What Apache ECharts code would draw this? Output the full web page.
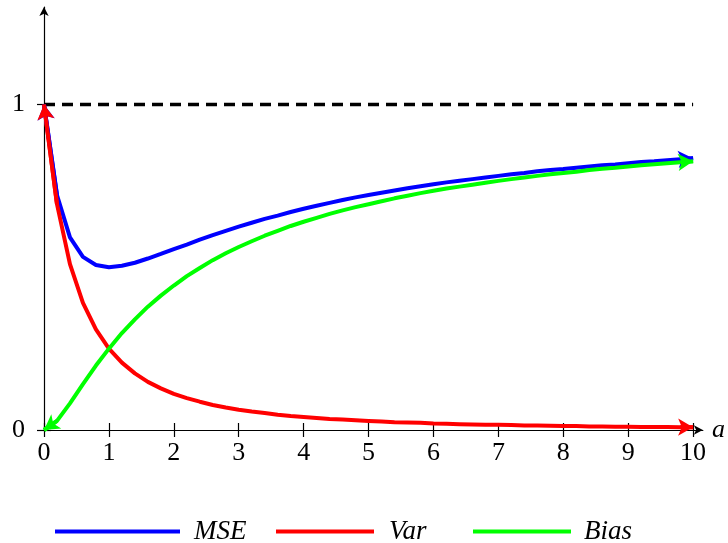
<!DOCTYPE html>
<html>
<head>
<meta charset="utf-8">
<script src="https://cdn.jsdelivr.net/npm/echarts@6/dist/echarts.min.js"></script>
<style>html,body{margin:0;padding:0;background:#fff}#c{width:728px;height:543px}</style>
</head>
<body>
<div id="c"></div>
<script>
var aValues = [0,0.2,0.4,0.6,0.8,1.0,1.2,1.4,1.6,1.8,2.0,2.2,2.4,2.6,2.8,3.0,3.2,3.4,3.6,3.8,4.0,4.2,4.4,4.6,4.8,5.0,5.2,5.4,5.6,5.8,6.0,6.2,6.4,6.6,6.8,7.0,7.2,7.4,7.6,7.8,8.0,8.2,8.4,8.6,8.8,9.0,9.2,9.4,9.6,9.8,10];
var mseValues = [1,0.722,0.592,0.532,0.507,0.5,0.505,0.514,0.527,0.541,0.556,0.570,0.585,0.599,0.612,0.625,0.637,0.649,0.659,0.670,0.68,0.689,0.698,0.707,0.715,0.722,0.729,0.736,0.743,0.749,0.755,0.761,0.766,0.771,0.776,0.781,0.786,0.790,0.795,0.799,0.802,0.806,0.810,0.814,0.816,0.82,0.824,0.826,0.829,0.832,0.835];
var varValues = [1,0.694,0.510,0.391,0.309,0.25,0.207,0.174,0.148,0.128,0.111,0.098,0.087,0.077,0.069,0.0625,0.057,0.052,0.047,0.043,0.04,0.037,0.034,0.032,0.030,0.028,0.026,0.024,0.023,0.022,0.020,0.019,0.018,0.017,0.016,0.016,0.015,0.014,0.014,0.013,0.012,0.012,0.011,0.011,0.010,0.010,0.0096,0.0092,0.0089,0.0086,0.0083];
var biasValues = [0,0.028,0.082,0.141,0.198,0.25,0.298,0.340,0.379,0.413,0.444,0.473,0.498,0.522,0.543,0.5625,0.580,0.597,0.612,0.627,0.64,0.652,0.664,0.675,0.685,0.694,0.703,0.712,0.720,0.728,0.735,0.742,0.748,0.754,0.760,0.7656,0.771,0.776,0.781,0.786,0.790,0.794,0.799,0.803,0.806,0.81,0.814,0.817,0.820,0.823,0.826];
var refLevel = 1;
var xTicks = [0,1,2,3,4,5,6,7,8,9,10];
var yTicks = [0,1];
var seriesNames = ['MSE','Var','Bias'];

function pairs(vals){ return aValues.map(function(a,i){ return [a, vals[i]]; }); }
var n = aValues.length;
var serif = '"Liberation Serif", "DejaVu Serif", serif';

function curve(name, vals, color){
  return {
    name: name, type: 'line', data: pairs(vals), showSymbol: false, symbol: 'none',
    clip: false, smooth: false, silent: true,
    lineStyle: { color: color, width: 4 }, itemStyle: { color: color },
    markLine: {
      silent: true, animation: false, symbol: ['none', 'arrow'], symbolSize: [13, 15],
      label: { show: false },
      lineStyle: { color: color, width: 4, type: 'solid' },
      data: [
        [{ coord: [aValues[1], vals[1]] }, { coord: [aValues[0], vals[0]] }],
        [{ coord: [aValues[n-2], vals[n-2]] }, { coord: [aValues[n-1], vals[n-1]] }]
      ]
    }
  };
}

var axisLineStyle = { color: '#000', width: 1.2 };
var legendText = { fontFamily: serif, fontStyle: 'italic', fontSize: 27, color: '#000' };
var chart = echarts.init(document.getElementById('c'), null, { renderer: 'canvas' });
chart.setOption({
  animation: false,
  backgroundColor: '#fff',
  grid: { left: 44, right: 24, top: 7, bottom: 113, containLabel: false },
  xAxis: [
    { type: 'value', min: 0, max: 10.15, position: 'bottom',
      axisLine: { show: true, lineStyle: axisLineStyle, symbol: ['none', 'arrow'], symbolSize: [7, 9] },
      axisTick: { show: true, inside: false, length: 7, lineStyle: axisLineStyle, customValues: xTicks },
      axisLabel: { show: true, margin: 10, color: '#000', fontFamily: serif, fontSize: 26, customValues: xTicks },
      splitLine: { show: false },
      name: 'a', nameLocation: 'end', nameGap: 6,
      nameTextStyle: { color: '#000', fontFamily: serif, fontStyle: 'italic', fontSize: 26, verticalAlign: 'middle' }
    },
    { type: 'value', min: 0, max: 10.15, position: 'bottom',
      axisLine: { show: false },
      axisTick: { show: true, inside: true, length: 7, lineStyle: axisLineStyle, customValues: xTicks },
      axisLabel: { show: false }, splitLine: { show: false }
    }
  ],
  yAxis: [
    { type: 'value', min: 0, max: 1.3, position: 'left',
      axisLine: { show: true, lineStyle: axisLineStyle, symbol: ['none', 'arrow'], symbolSize: [7, 9] },
      axisTick: { show: true, inside: false, length: 7, lineStyle: axisLineStyle, customValues: yTicks },
      axisLabel: { show: true, margin: 19, color: '#000', fontFamily: serif, fontSize: 26, customValues: yTicks },
      splitLine: { show: false }
    },
    { type: 'value', min: 0, max: 1.3, position: 'left',
      axisLine: { show: false },
      axisTick: { show: true, inside: true, length: 7, lineStyle: axisLineStyle, customValues: yTicks },
      axisLabel: { show: false }, splitLine: { show: false }
    }
  ],
  legend: [
    { data: [{ name: seriesNames[0], icon: 'rect' }], left: 50, top: 513, itemWidth: 125, itemHeight: 4, itemGap: 0,
      textStyle: Object.assign({ padding: [0,0,0,9] }, legendText), selectedMode: false },
    { data: [{ name: seriesNames[1], icon: 'rect' }], left: 271, top: 513, itemWidth: 98, itemHeight: 4, itemGap: 0,
      textStyle: Object.assign({ padding: [0,0,0,10] }, legendText), selectedMode: false },
    { data: [{ name: seriesNames[2], icon: 'rect' }], left: 468, top: 513, itemWidth: 98, itemHeight: 4, itemGap: 0,
      textStyle: Object.assign({ padding: [0,0,0,8] }, legendText), selectedMode: false }
  ],
  series: [
    { name: 'ref', type: 'line', data: [[xTicks[0], refLevel], [xTicks[xTicks.length-1], refLevel]],
      symbol: 'none', silent: true, clip: false,
      lineStyle: { color: '#000', width: 3.5, type: [11, 7] } },
    curve(seriesNames[0], mseValues, '#0000ff'),
    curve(seriesNames[1], varValues, '#ff0000'),
    curve(seriesNames[2], biasValues, '#00ff00')
  ]
});
</script>
</body>
</html>
